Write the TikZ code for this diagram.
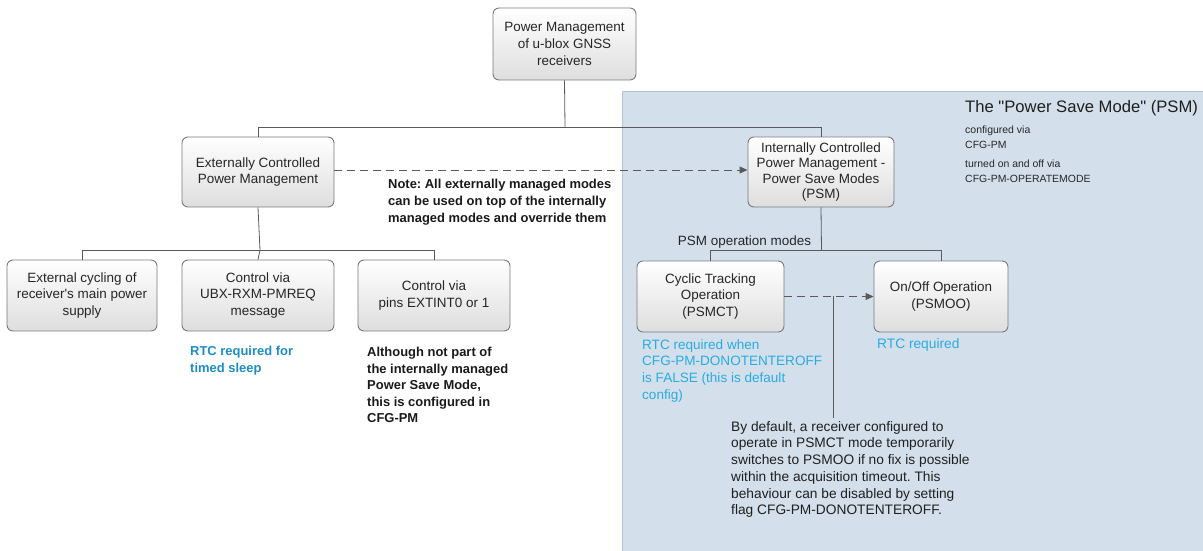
\documentclass[tikz,border=0pt]{standalone}
\usepackage{fontspec}
\setmainfont{Liberation Sans}
\usetikzlibrary{arrows.meta}
\frenchspacing
\definecolor{psmbg}{HTML}{D3E0EB}
\definecolor{psmborder}{HTML}{B4C4D2}
\definecolor{linegray}{HTML}{5A5A5A}
\definecolor{boxborder}{HTML}{7A7A7A}
\definecolor{rtcdark}{HTML}{1C8CC4}
\definecolor{rtclight}{HTML}{29ABE2}
\tikzset{
  pmbox/.style={draw=boxborder, line width=0.9bp, rounded corners=6bp,
    top color=white, bottom color=black!13, inner sep=0pt,
    align=center, font=\fontsize{13.5}{16.7}\selectfont, text=black!85},
  conn/.style={draw=linegray, line width=0.8bp},
  dashconn/.style={draw=linegray, line width=0.9bp, dash pattern=on 8bp off 5bp,
    -{Triangle[length=8bp,width=7bp]}},
  note/.style={anchor=north west, inner sep=0pt, align=left,
    font=\fontsize{13.8}{16.8}\selectfont},
  small/.style={anchor=north west, inner sep=0pt, align=left,
    font=\fontsize{10.5}{15}\selectfont, text=black!85}
}
\begin{document}
\begin{tikzpicture}[x=1bp,y=-1bp]
\useasboundingbox (0,0) rectangle (1203,551);
% PSM region
\fill[psmbg] (622,92) rectangle (1203,551);
\draw[psmborder, line width=1bp] (622,551) -- (622,92) -- (1203,92);

% boxes
\node[pmbox, minimum width=143bp, minimum height=72bp] (top) at (564.5,44) {Power Management\\of u-blox GNSS\\receivers};
\node[pmbox, minimum width=152bp, minimum height=70bp] (ext) at (258,172) {Externally Controlled\\Power Management};
\node[pmbox, minimum width=146bp, minimum height=70bp, font=\fontsize{13.5}{15.2}\selectfont] (int) at (821,172) {Internally Controlled\\Power Management -\\Power Save Modes\\(PSM)};
\node[pmbox, minimum width=150bp, minimum height=71bp] (cyc) at (82,295.5) {External cycling of\\receiver\textquotesingle s main power\\supply};
\node[pmbox, minimum width=152bp, minimum height=71bp] (ubx) at (258,295.5) {Control via\\UBX-RXM-PMREQ\\message};
\node[pmbox, minimum width=152bp, minimum height=71bp] (pins) at (434,295.5) {Control via\\pins EXTINT0 or 1};
\node[pmbox, minimum width=147bp, minimum height=71bp] (psmct) at (710.5,296.5) {Cyclic Tracking\\Operation\\(PSMCT)};
\node[pmbox, minimum width=134bp, minimum height=71bp] (psmoo) at (941,296.5) {On/Off Operation\\(PSMOO)};

% tree connectors
\coordinate (j1) at (565,127);
\coordinate (j2) at (260,250);
\coordinate (j3) at (821.5,250);
\draw[conn] (top.south) -- (j1);
\draw[conn] (j1) -| (ext.north);
\draw[conn] (j1) -| (int.north);
\draw[conn] (ext.south) -- (j2);
\draw[conn] (j2) -| (cyc.north);
\draw[conn] (j2) -- (ubx.north);
\draw[conn] (j2) -| (pins.north);
\draw[conn] (int.south) -- (j3);
\draw[conn] (j3) -| (psmct.north);
\draw[conn] (j3) -| (psmoo.north);

% dashed arrows
\draw[dashconn] (ext.east |- 0,170) -- (int.west |- 0,170);
\draw[dashconn] (psmct.east) -- (psmoo.west);
\coordinate (bn) at (833,296.5);
\coordinate (bnend) at (833,418);
\draw[conn] (bn) -- (bnend);

% labels
\node[anchor=south, inner sep=0pt, font=\fontsize{13.5}{15}\selectfont, text=black!85] (pom) at (744.5,248) {PSM operation modes};
\node[note, font=\bfseries\fontsize{13}{16.8}\selectfont, text=black!90] (note1) at (388,179) {Note: All externally managed modes\\can be used on top of the internally\\managed modes and override them};
\node[note, font=\bfseries\fontsize{13}{16.6}\selectfont, text=rtcdark] (rtc1) at (190,346) {RTC required for\\timed sleep};
\node[note, font=\bfseries\fontsize{13}{16.6}\selectfont, text=black!90] (although) at (367,347) {Although not part of\\the internally managed\\Power Save Mode,\\this is configured in\\CFG-PM};
\node[note, font=\fontsize{13.6}{16.9}\selectfont, text=rtclight] (rtc2) at (642,339) {RTC required when\\CFG-PM-DONOTENTEROFF\\is FALSE (this is default\\config)};
\node[note, font=\fontsize{13.8}{16.9}\selectfont, text=rtclight] (rtc3) at (877,338) {RTC required};
\node[note, text=black!88] (bottomnote) at (731,421) {By default, a receiver configured to\\operate in PSMCT mode temporarily\\switches to PSMOO if no fix is possible\\within the acquisition timeout. This\\behaviour can be disabled by setting\\flag CFG-PM-DONOTENTEROFF.};

% PSM title and notes
\node[anchor=north west, inner sep=0pt, font=\fontsize{16.7}{18}\selectfont, text=black!88] (title) at (965,100) {The \textquotedbl Power Save Mode\textquotedbl{} (PSM)};
\node[small] (cfg1) at (965,126) {configured via\\CFG-PM};
\node[small] (cfg2) at (965,160) {turned on and off via\\CFG-PM-OPERATEMODE};
\end{tikzpicture}
\end{document}
